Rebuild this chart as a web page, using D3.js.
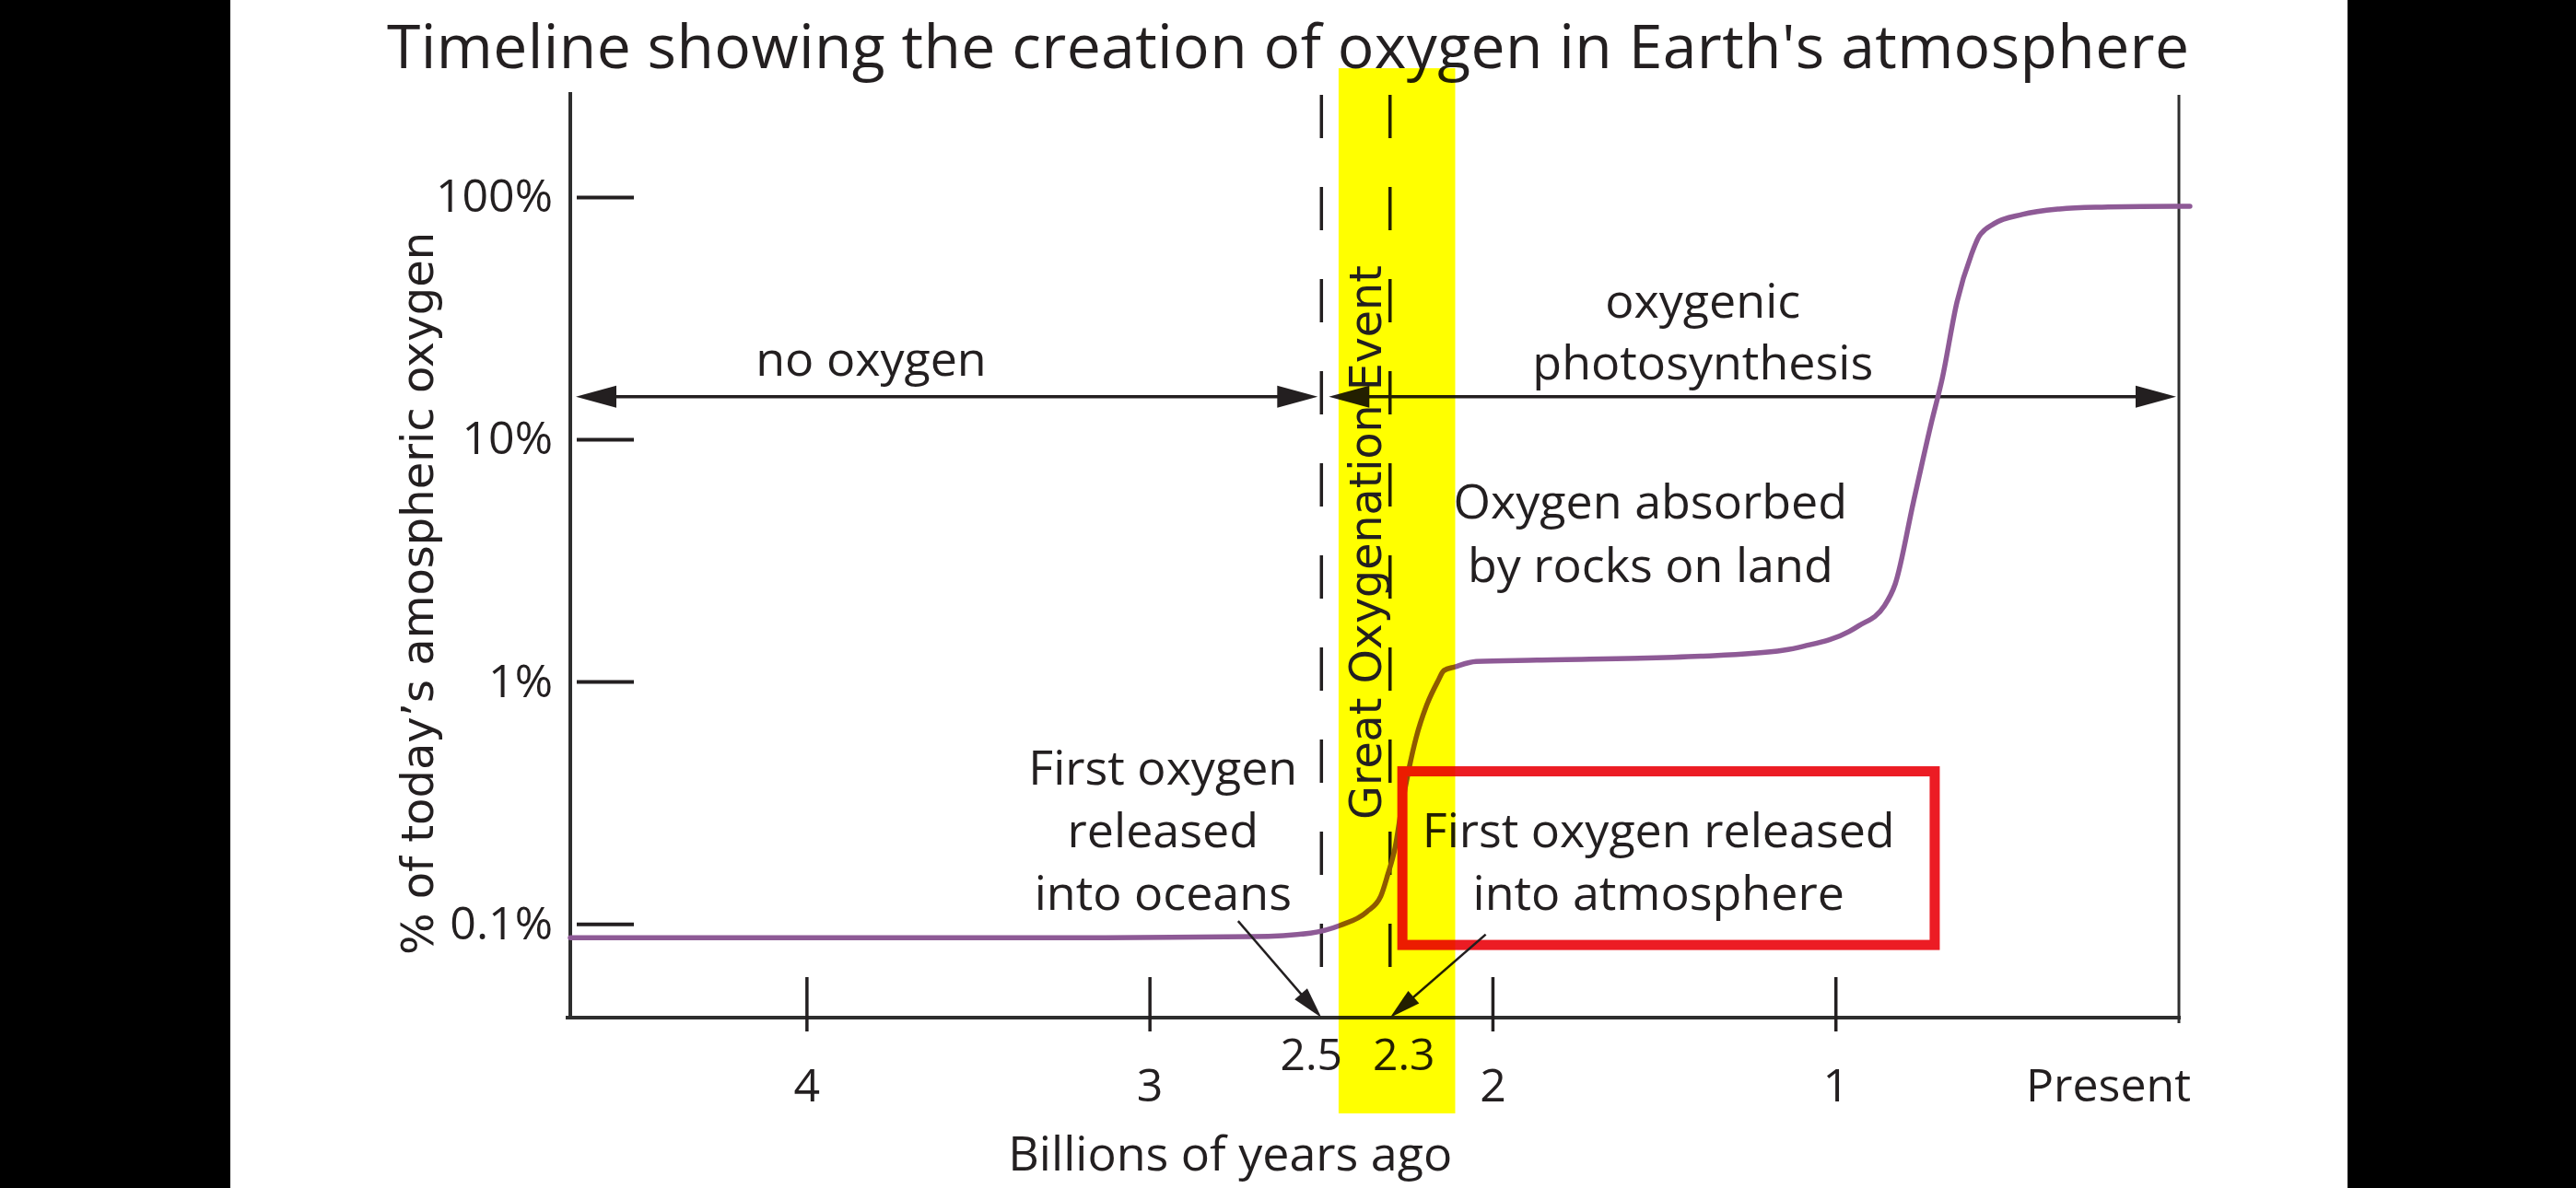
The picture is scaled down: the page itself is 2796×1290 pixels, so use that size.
<!DOCTYPE html>
<html><head><meta charset="utf-8">
<script src="https://cdn.jsdelivr.net/npm/d3@7/dist/d3.min.js"></script>
<style>
html,body{margin:0;padding:0;background:#000;}
svg{display:block;}
</style></head><body>
<svg id="chart" width="2796" height="1290"></svg>
<script>
// ---------------- data ----------------
const titleText = "Timeline showing the creation of oxygen in Earth's atmosphere";
const yTitleText = "% of today\u2019s amospheric oxygen";
const xTitleText = "Billions of years ago";

// oxygen curve: age (billions of years ago) and % of today's atmospheric oxygen
const curveAgeGa = [4.69, 3.13, 2.70, 2.532, 2.445, 2.368, 2.327, 2.307, 2.285, 2.265, 2.245, 2.224, 2.194, 2.161, 2.143, 2.111, 2.049, 1.872, 1.394, 1.152, 1.093, 0.961, 0.933, 0.859, 0.827, 0.774, 0.721, 0.690, 0.647, 0.605, 0.583, 0.539, 0.457, 0.349, 0.243, 0.009, -0.032];
const curveO2Pct = [0.0877, 0.0877, 0.0885, 0.0916, 0.0986, 0.112, 0.130, 0.159, 0.207, 0.309, 0.435, 0.586, 0.793, 1.00, 1.11, 1.15, 1.21, 1.226, 1.272, 1.347, 1.40, 1.61, 1.70, 2.05, 2.53, 5.51, 11.81, 17.82, 36.9, 57.9, 68.6, 77.6, 84.7, 89.2, 90.8, 91.6, 91.6];

const xTickValues = [4, 3, 2, 1];
const xTickLabels = ["4", "3", "2", "1"];
const presentValue = 0;
const presentLabel = "Present";
const eventValues = [2.5, 2.3];
const eventLabels = ["2.5", "2.3"];

const yTickValues = [0.1, 1, 10, 100];
const yTickLabels = ["0.1%", "1%", "10%", "100%"];

// Great Oxygenation Event band (Ga)
const goeBand = [2.45, 2.11];
const goeLabel = "Great Oxygenation Event";

// period arrows
const periodStart = [4.69, 2.5];
const periodEnd = [2.5, 0];
const periodLevelPct = 15;

// annotation labels: [age, pct of first baseline], lines
const noOxygenLines = ["no oxygen"];            const noOxygenAt = [3.813, 18.3];
const photoLines = ["oxygenic", "photosynthesis"]; const photoAt = [1.388, 31.8];
const absorbedLines = ["Oxygen absorbed", "by rocks on land"]; const absorbedAt = [1.541, 4.71];
const oceansLines = ["First oxygen", "released", "into oceans"]; const oceansAt = [2.962, 0.376];
const atmosLines = ["First oxygen released", "into atmosphere"]; const atmosAt = [1.517, 0.207];

// pointer arrows: tail [age, pct] -> tip [age, pct]
const oceansArrow = [[2.743, 0.1027], [2.5, 0.041]];
const atmosArrow = [[2.021, 0.0904], [2.3, 0.041]];

// highlight box [age left, age right], [pct top, pct bottom]
const boxAges = [2.264, 0.712];
const boxPcts = [0.426, 0.0818];

// dashed event lines vertical extent (pct)
const eventLineExtent = [264, 0.0663];
const bandExtent = [340, 0.0165];

// ---------------- drawing ----------------
const W = 2796, H = 1290;
const ink = "#231f20", axisInk = "#2e2e2e";
const sans = "'Open Sans', 'Noto Sans', sans-serif";
const wide = "'DejaVu Sans', Verdana, sans-serif";

const svg = d3.select("#chart");
const xScale = d3.scaleLinear().domain([4.69, 0]).range([619, 2365]);
const yScale = d3.scaleLog().domain([0.041, 271]).range([1105, 100]);
const xMin = xScale.domain()[0], yLo = yScale.domain()[0], yHi = yScale.domain()[1];

svg.append("rect").attr("width", W).attr("height", H).attr("fill", "#000");
svg.append("rect").attr("x", 250).attr("width", 2298).attr("height", H).attr("fill", "#fff");

// title
svg.append("text").attr("x", 1398).attr("y", 74).attr("text-anchor", "middle")
  .attr("font-family", sans).attr("font-size", 66).attr("fill", ink)
  .attr("textLength", 1956).attr("lengthAdjust", "spacing").text(titleText);

// axes lines
svg.append("line").attr("x1", xScale(xMin)).attr("x2", xScale(xMin))
  .attr("y1", yScale(yHi)).attr("y2", yScale(yLo) + 2)
  .attr("stroke", axisInk).attr("stroke-width", 4);
svg.append("line").attr("x1", xScale(xMin) - 5).attr("x2", xScale(0) + 2)
  .attr("y1", yScale(yLo)).attr("y2", yScale(yLo))
  .attr("stroke", axisInk).attr("stroke-width", 4);
svg.append("line").attr("x1", xScale(0)).attr("x2", xScale(0))
  .attr("y1", yScale(yHi) + 3).attr("y2", yScale(yLo) + 6)
  .attr("stroke", axisInk).attr("stroke-width", 3);

// y ticks
const yAxis = d3.axisLeft(yScale).tickValues(yTickValues)
  .tickFormat(d => yTickLabels[yTickValues.indexOf(d)])
  .tickSizeInner(-62).tickSizeOuter(0).tickPadding(26);
const gy = svg.append("g").attr("transform", `translate(${xScale(xMin) + 7},0)`).call(yAxis);
gy.select(".domain").remove();
gy.selectAll(".tick line").attr("stroke", ink).attr("stroke-width", 4);
gy.selectAll(".tick text").attr("font-family", sans).attr("font-size", 50).attr("fill", ink);

// y title
svg.append("text").attr("transform", `translate(470,${(yScale(yHi) + yScale(yLo)) / 2 + 42}) rotate(-90)`)
  .attr("text-anchor", "middle").attr("font-family", wide).attr("font-size", 48).attr("fill", ink)
  .text(yTitleText);

// x ticks
const y0 = yScale(yLo);
svg.selectAll(".xtick").data(xTickValues).join("line").attr("class", "xtick")
  .attr("x1", d => xScale(d)).attr("x2", d => xScale(d))
  .attr("y1", y0 - 44).attr("y2", y0 + 15)
  .attr("stroke", ink).attr("stroke-width", 3.5);
svg.selectAll(".xlab").data(xTickValues).join("text").attr("class", "xlab")
  .attr("x", d => xScale(d)).attr("y", y0 + 91).attr("text-anchor", "middle")
  .attr("font-family", sans).attr("font-size", 50).attr("fill", ink)
  .text((d, i) => xTickLabels[i]);
svg.append("text").attr("x", xScale(presentValue) + 13).attr("y", y0 + 91).attr("text-anchor", "end")
  .attr("font-family", sans).attr("font-size", 50).attr("fill", ink).text(presentLabel);
// event labels, spread apart a little so they do not collide
const eventNudge = [-11, 15];
svg.selectAll(".evlab").data(eventValues).join("text").attr("class", "evlab")
  .attr("x", (d, i) => xScale(d) + eventNudge[i]).attr("y", y0 + 57).attr("text-anchor", "middle")
  .attr("font-family", sans).attr("font-size", 48).attr("fill", ink)
  .text((d, i) => eventLabels[i]);
svg.append("text").attr("x", xScale(2.766)).attr("y", 1271).attr("text-anchor", "middle")
  .attr("font-family", sans).attr("font-size", 52).attr("fill", ink).text(xTitleText);

// dashed event lines
svg.selectAll(".evline").data(eventValues).join("line").attr("class", "evline")
  .attr("x1", d => xScale(d)).attr("x2", d => xScale(d))
  .attr("y1", yScale(eventLineExtent[0])).attr("y2", yScale(eventLineExtent[1]))
  .attr("stroke", ink).attr("stroke-width", 3.5).attr("stroke-dasharray", "47,53");

// arrow helpers
function arrowHead(x1, y1, x2, y2, len, hw) {
  const a = Math.atan2(y2 - y1, x2 - x1);
  const bx = x2 - len * Math.cos(a), by = y2 - len * Math.sin(a);
  const px = -Math.sin(a) * hw, py = Math.cos(a) * hw;
  svg.append("path").attr("d", `M${x2},${y2}L${bx + px},${by + py}L${bx - px},${by - py}Z`).attr("fill", ink);
}
function arrowLine(x1, y1, x2, y2, w) {
  svg.append("line").attr("x1", x1).attr("y1", y1).attr("x2", x2).attr("y2", y2)
    .attr("stroke", ink).attr("stroke-width", w);
}

// period arrows
const ly = yScale(periodLevelPct);
periodStart.forEach((s, i) => {
  const xa = xScale(s) + (i === 0 ? 6 : 8);
  const xb = xScale(periodEnd[i]) - (i === 0 ? 4 : 3);
  arrowLine(xa + 20, ly, xb - 20, ly, 3.5);
  arrowHead(xb, ly, xa, ly, 44, 12);
  arrowHead(xa, ly, xb, ly, 44, 12);
});

// oxygen curve
const curvePts = curveAgeGa.map((a, i) => [a, curveO2Pct[i]]);
svg.append("path").datum(curvePts)
  .attr("d", d3.line().x(d => xScale(d[0])).y(d => yScale(d[1])).curve(d3.curveMonotoneX))
  .attr("fill", "none").attr("stroke", "#8e5a96").attr("stroke-width", 5.5)
  .attr("stroke-linecap", "round");

// highlight box
svg.append("rect")
  .attr("x", xScale(boxAges[0])).attr("y", yScale(boxPcts[0]))
  .attr("width", xScale(boxAges[1]) - xScale(boxAges[0]))
  .attr("height", yScale(boxPcts[1]) - yScale(boxPcts[0]))
  .attr("fill", "none").attr("stroke", "#ec1c24").attr("stroke-width", 11);

// multi-line labels
function label(lines, at, lh) {
  const t = svg.append("text").attr("text-anchor", "middle")
    .attr("font-family", sans).attr("font-size", 52).attr("fill", ink);
  lines.forEach((s, i) => {
    t.append("tspan").attr("x", xScale(at[0])).attr("y", yScale(at[1]) + i * lh).text(s);
  });
}
label(noOxygenLines, noOxygenAt, 68);
label(photoLines, photoAt, 67);
label(absorbedLines, absorbedAt, 69);
label(oceansLines, oceansAt, 68);
label(atmosLines, atmosAt, 68);

// pointer arrows
[oceansArrow, atmosArrow].forEach(ar => {
  const x1 = xScale(ar[0][0]), y1 = yScale(ar[0][1]);
  const x2 = xScale(ar[1][0]), y2 = yScale(ar[1][1]);
  const a = Math.atan2(y2 - y1, x2 - x1);
  arrowLine(x1, y1, x2 - 20 * Math.cos(a), y2 - 20 * Math.sin(a), 2.5);
  arrowHead(x1, y1, x2, y2, 34, 9);
});

// GOE band (multiplied over everything beneath)
svg.append("rect")
  .attr("x", xScale(goeBand[0])).attr("width", xScale(goeBand[1]) - xScale(goeBand[0]))
  .attr("y", yScale(bandExtent[0])).attr("height", yScale(bandExtent[1]) - yScale(bandExtent[0]))
  .attr("fill", "#ffff00").style("mix-blend-mode", "multiply");

// GOE label
svg.append("text")
  .attr("transform", `translate(${xScale(2.3) - 10},${yScale(3.75)}) rotate(-90)`)
  .attr("text-anchor", "middle").attr("font-family", wide).attr("font-size", 47.5).attr("fill", ink)
  .text(goeLabel);
</script>
</body></html>
